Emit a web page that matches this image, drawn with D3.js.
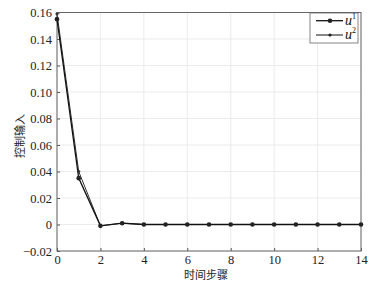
<!DOCTYPE html>
<html lang="zh">
<head>
<meta charset="UTF-8">
<script src="https://d3js.org/d3.v7.min.js"></script>
<style>
  body { margin: 0; background: #fff; }
</style>
</head>
<body>
<div id="chart"></div>
<script>
  // data
  const steps = d3.range(0, 15);
  const u1 = [0.155, 0.035, -0.001, 0.001, 0, 0, 0, 0, 0, 0, 0, 0, 0, 0, 0];
  const u2 = [0.159, 0.040, -0.001, 0.001, 0, 0, 0, 0, 0, 0, 0, 0, 0, 0, 0];
  const xTicks = [0, 2, 4, 6, 8, 10, 12, 14];
  const yTicks = [-0.02, 0, 0.02, 0.04, 0.06, 0.08, 0.10, 0.12, 0.14, 0.16];

  const width = 385, height = 288;
  const margin = { top: 12.5, right: 24, bottom: 37, left: 57 };
  const serif = "'Liberation Serif', 'Times New Roman', 'DejaVu Serif', serif";
  const cjk = "'Noto Sans CJK SC', sans-serif";

  const svg = d3.select("#chart").append("svg")
    .attr("width", width).attr("height", height);

  const x = d3.scaleLinear().domain([0, 14]).range([margin.left, width - margin.right]);
  const y = d3.scaleLinear().domain([-0.02, 0.16]).range([height - margin.bottom, margin.top]);

  // grid
  svg.append("g").selectAll("line").data(xTicks).join("line")
    .attr("x1", d => x(d)).attr("x2", d => x(d))
    .attr("y1", y(-0.02)).attr("y2", y(0.16))
    .attr("stroke", "#e6e6e6").attr("stroke-width", 0.8);
  svg.append("g").selectAll("line").data(yTicks).join("line")
    .attr("x1", x(0)).attr("x2", x(14))
    .attr("y1", d => y(d)).attr("y2", d => y(d))
    .attr("stroke", "#e6e6e6").attr("stroke-width", 0.8);

  // axes
  const fmtY = d => d === 0 ? "0" : (d < 0 ? "\u22120.02" : d3.format(".2f")(d));
  const gx = svg.append("g")
    .attr("transform", `translate(0,${y(-0.02)})`)
    .call(d3.axisBottom(x).tickValues(xTicks).tickSize(-3).tickPadding(4).tickFormat(d3.format("d")));
  const gy = svg.append("g")
    .attr("transform", `translate(${x(0)},0)`)
    .call(d3.axisLeft(y).tickValues(yTicks).tickSize(-3).tickPadding(5).tickFormat(fmtY));
  [gx, gy].forEach(g => {
    g.attr("font-family", null).attr("font-size", null);
    g.select(".domain").remove();
    g.selectAll("line").attr("stroke", "#555");
    g.selectAll("text").attr("fill", "#222")
      .style("font-family", serif).style("font-size", "12.5px");
  });

  // box
  svg.append("rect")
    .attr("x", x(0)).attr("y", y(0.16))
    .attr("width", x(14) - x(0)).attr("height", y(-0.02) - y(0.16))
    .attr("fill", "none").attr("stroke", "#666").attr("stroke-width", 1);

  // lines
  const line = d3.line().x((d, i) => x(steps[i])).y(d => y(d));
  svg.append("path").datum(u2).attr("d", line)
    .attr("fill", "none").attr("stroke", "#333").attr("stroke-width", 1);
  svg.append("path").datum(u1).attr("d", line)
    .attr("fill", "none").attr("stroke", "#111").attr("stroke-width", 1.3);

  svg.append("g").selectAll("circle").data(u2).join("circle")
    .attr("cx", (d, i) => x(steps[i])).attr("cy", d => y(d))
    .attr("r", 1.6).attr("fill", "#333");
  svg.append("g").selectAll("circle").data(u1).join("circle")
    .attr("cx", (d, i) => x(steps[i])).attr("cy", d => y(d))
    .attr("r", 2.3).attr("fill", "#222");

  // legend
  const lg = svg.append("g");
  lg.append("rect").attr("x", 310).attr("y", 13).attr("width", 48).attr("height", 30)
    .attr("fill", "#fff").attr("stroke", "#666").attr("stroke-width", 0.8);
  [[20.7, "1", 2.3, 1.3], [35, "2", 1.6, 1]].forEach(([ly, sup, r, sw]) => {
    lg.append("line").attr("x1", 316).attr("x2", 343).attr("y1", ly).attr("y2", ly)
      .attr("stroke", "#111").attr("stroke-width", sw);
    lg.append("circle").attr("cx", 330).attr("cy", ly).attr("r", r).attr("fill", "#222");
    const t = lg.append("text").attr("x", 345).attr("y", ly + 4)
      .style("font-family", serif)
      .style("font-size", "14px").attr("font-style", "italic").attr("fill", "#111");
    t.append("tspan").text("u");
    t.append("tspan").attr("dy", -6).style("font-size", "8px").attr("font-style", "normal").text(sup);
  });

  // axis labels
  svg.append("text")
    .attr("x", 206).attr("y", 278.5)
    .attr("text-anchor", "middle").attr("fill", "#222")
    .style("font-family", cjk).style("font-size", "11px")
    .text("时间步骤");
  svg.append("text")
    .attr("transform", "translate(24,136) rotate(-90)")
    .attr("text-anchor", "middle").attr("fill", "#222")
    .style("font-family", cjk).style("font-size", "11px")
    .text("控制输入");
</script>
</body>
</html>
